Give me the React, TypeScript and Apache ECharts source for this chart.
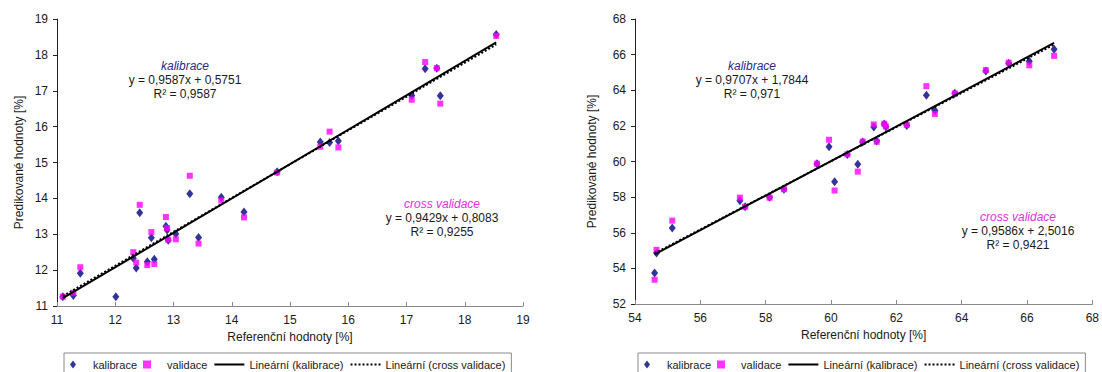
import React, { useEffect, useRef } from "react";
import * as echarts from "echarts";

// Left chart (range 11–19)
const leftX = [11.1, 11.28, 11.4, 12.01, 12.31, 12.36, 12.42, 12.55, 12.67, 12.62, 12.87, 12.89, 12.91, 13.04, 13.28, 13.43, 13.82, 14.21, 14.78, 15.52, 15.68, 15.83, 17.09, 17.32, 17.52, 17.58, 18.54];
const leftCal = [11.26, 11.29, 11.91, 11.26, 12.33, 12.06, 13.6, 12.23, 12.3, 12.9, 13.22, 13.12, 12.83, 13.01, 14.13, 12.91, 14.03, 13.62, 14.74, 15.57, 15.56, 15.6, 16.87, 17.61, 17.63, 16.86, 18.57];
const leftVal = [11.26, 11.37, 12.08, null, 12.5, 12.21, 13.82, 12.14, 12.17, 13.06, 13.48, 13.17, 12.85, 12.86, 14.63, 12.74, 13.94, 13.47, 14.72, 15.44, 15.86, 15.42, 16.75, 17.8, 17.63, 16.64, 18.53];
const leftCalFit = { slope: 0.9587, intercept: 0.5751, r2: "0,9587", eq: "y = 0,9587x + 0,5751" };
const leftValFit = { slope: 0.9429, intercept: 0.8083, r2: "0,9255", eq: "y = 0,9429x + 0,8083" };

// Right chart (range 54–68)
const rightX = [54.6, 54.66, 55.14, 57.21, 57.37, 58.12, 58.56, 59.57, 59.94, 60.11, 60.5, 60.82, 60.97, 61.31, 61.4, 61.63, 61.68, 62.32, 62.92, 63.18, 63.79, 64.74, 65.44, 66.07, 66.83];
const rightCal = [53.74, 54.86, 56.26, 57.8, 57.46, 58.0, 58.44, 59.87, 60.83, 58.87, 60.4, 59.84, 61.1, 61.94, 61.15, 62.1, 61.95, 62.02, 63.72, 62.87, 63.83, 65.08, 65.52, 65.63, 66.3];
const rightVal = [53.36, 55.04, 56.68, 57.97, 57.46, 57.97, 58.44, 59.88, 61.22, 58.37, 60.4, 59.43, 61.12, 62.08, 61.11, 62.12, 61.97, 62.06, 64.23, 62.67, 63.82, 65.13, 65.55, 65.4, 65.93];
const rightCalFit = { slope: 0.9707, intercept: 1.7844, r2: "0,971", eq: "y = 0,9707x + 1,7844" };
const rightValFit = { slope: 0.9586, intercept: 2.5016, r2: "0,9421", eq: "y = 0,9586x + 2,5016" };

const leftTicks = { min: 11, max: 19, interval: 1 };
const rightTicks = { min: 54, max: 68, interval: 2 };
const rightYTicks = { min: 52, max: 68, interval: 2 };

const NAVY = "#000080";
const MAGENTA = "#FF00FF";
const FONT = "'Liberation Sans', Arial, sans-serif";
const DIAMOND = "path://M3,0L6,4L3,8L0,4Z";
const SQUARE = "path://M0,0L7,0L7,7L0,7Z";

function pairs(xs: number[], ys: (number | null)[]) {
  const out: number[][] = [];
  xs.forEach((x, i) => {
    const y = ys[i];
    if (y !== null && y !== undefined) out.push([x, y]);
  });
  return out;
}

function fitLine(xs: number[], fit: { slope: number; intercept: number }) {
  const lo = Math.min(...xs);
  const hi = Math.max(...xs);
  return [
    [lo, fit.slope * lo + fit.intercept],
    [hi, fit.slope * hi + fit.intercept],
  ];
}

function axisX(idx: number, t: { min: number; max: number; interval: number }) {
  return {
    type: "value",
    gridIndex: idx,
    min: t.min,
    max: t.max,
    interval: t.interval,
    name: "Referenční hodnoty [%]",
    nameLocation: "middle",
    nameGap: 25,
    nameTextStyle: { fontFamily: FONT, fontSize: 12, color: "#1a1a1a" },
    axisLine: { lineStyle: { color: "#8a8a8a", width: 1 } },
    axisTick: { inside: true, length: 4, lineStyle: { color: "#8a8a8a" } },
    axisLabel: { fontFamily: FONT, fontSize: 12, color: "#1a1a1a", margin: 8 },
    splitLine: { show: false },
  };
}

function axisY(idx: number, t: { min: number; max: number; interval: number }, gap: number) {
  return {
    type: "value",
    gridIndex: idx,
    min: t.min,
    max: t.max,
    interval: t.interval,
    name: "Predikované hodnoty [%]",
    nameLocation: "middle",
    nameGap: gap,
    nameTextStyle: { fontFamily: FONT, fontSize: 12, color: "#1a1a1a" },
    axisLine: { show: true, lineStyle: { color: "#222", width: 1 } },
    axisTick: { show: true, inside: false, length: 4, lineStyle: { color: "#222" } },
    axisLabel: { fontFamily: FONT, fontSize: 12, color: "#1a1a1a", margin: 9 },
    splitLine: { show: false },
  };
}

function seriesFor(idx: number, xs: number[], cal: number[], val: (number | null)[], cf: any, vf: any) {
  return [
    {
      name: "kalibrace",
      type: "scatter",
      xAxisIndex: idx,
      yAxisIndex: idx,
      symbol: "diamond",
      symbolSize: [7, 9],
      itemStyle: { color: NAVY },
      data: pairs(xs, cal),
      z: 2,
    },
    {
      name: "validace",
      type: "scatter",
      xAxisIndex: idx,
      yAxisIndex: idx,
      symbol: "rect",
      symbolSize: 6,
      itemStyle: { color: MAGENTA },
      data: pairs(xs, val),
      z: 3,
    },
    {
      name: "Lineární (kalibrace)",
      type: "line",
      xAxisIndex: idx,
      yAxisIndex: idx,
      symbol: "none",
      lineStyle: { color: "#000", width: 2, type: "solid" },
      itemStyle: { color: "#000" },
      data: fitLine(xs, cf),
      z: 4,
    },
    {
      name: "Lineární (cross validace)",
      type: "line",
      xAxisIndex: idx,
      yAxisIndex: idx,
      symbol: "none",
      lineStyle: { color: "#000", width: 2, type: [2, 2] },
      itemStyle: { color: "#000" },
      data: fitLine(xs, vf),
      z: 5,
    },
  ];
}

function legendAt(left: number) {
  return {
    left,
    top: 353,
    orient: "horizontal",
    selectedMode: false,
    itemWidth: 30,
    itemHeight: 8,
    itemGap: 6,
    padding: [6, 6, 6, 6],
    borderColor: "#8a8a8a",
    borderWidth: 1,
    textStyle: { fontFamily: FONT, fontSize: 11, color: "#1a1a1a" },
    data: [
      { name: "kalibrace", icon: DIAMOND },
      { name: "validace", icon: SQUARE },
      { name: "Lineární (kalibrace)", itemStyle: { opacity: 0 } },
      { name: "Lineární (cross validace)", itemStyle: { opacity: 0 } },
    ],
  };
}

function label(x: number, y: number, text: string, color: string, italic = false) {
  return {
    type: "text",
    x,
    y,
    silent: true,
    style: {
      text,
      fill: color,
      font: `${italic ? "italic " : ""}12px ${FONT}`,
      align: "center",
      verticalAlign: "middle",
    },
  };
}

function annotations(cx1: number, cy1: number, cx2: number, cy2: number, cf: any, vf: any) {
  return [
    label(cx1, cy1, "kalibrace", "#2B2B80", true),
    label(cx1, cy1 + 14, cf.eq, "#1a1a1a"),
    label(cx1, cy1 + 28, "R² = " + cf.r2, "#1a1a1a"),
    label(cx2, cy2, "cross validace", "#E030E0", true),
    label(cx2, cy2 + 14, vf.eq, "#1a1a1a"),
    label(cx2, cy2 + 28, "R² = " + vf.r2, "#1a1a1a"),
  ];
}

export default function App() {
  const ref = useRef<HTMLDivElement>(null);
  useEffect(() => {
    if (!ref.current) return;
    const chart = echarts.init(ref.current, undefined, { renderer: "svg" });
    chart.setOption({
      animation: false,
      backgroundColor: "#ffffff",
      grid: [
        { left: 57, top: 19, width: 466, height: 287 },
        { left: 635, top: 19, width: 463, height: 285 },
      ],
      xAxis: [axisX(0, leftTicks), axisX(1, rightTicks)],
      yAxis: [axisY(0, leftTicks, 32), axisY(1, rightYTicks, 37)],
      legend: [legendAt(64), legendAt(638)],
      series: [
        ...seriesFor(0, leftX, leftCal, leftVal, leftCalFit, leftValFit),
        ...seriesFor(1, rightX, rightCal, rightVal, rightCalFit, rightValFit),
      ],
      graphic: [
        ...annotations(185, 66, 442, 204, leftCalFit, leftValFit),
        ...annotations(752, 66, 1018, 217, rightCalFit, rightValFit),
      ],
    });
    return () => chart.dispose();
  }, []);
  return (
    <div
      ref={ref}
      style={{ position: "absolute", left: 0, top: 0, width: 1102, height: 372, background: "#fff" }}
    />
  );
}
